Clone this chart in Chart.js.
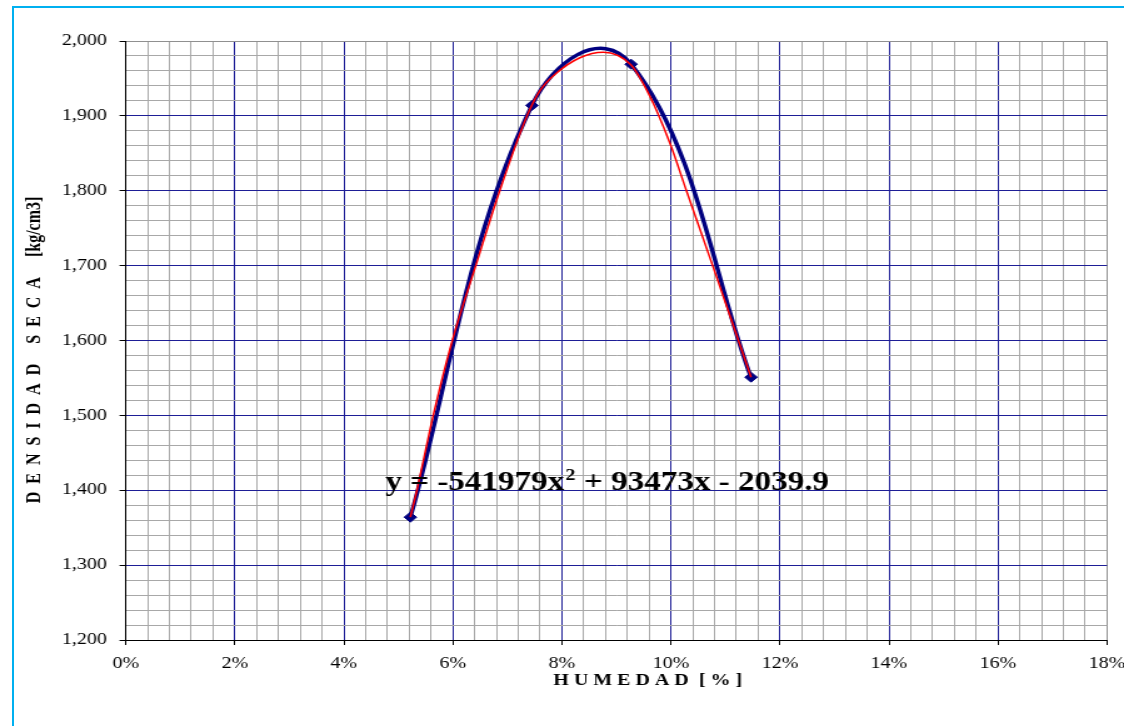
<!DOCTYPE html>
<html>
<head>
<meta charset="utf-8">
<script src="https://cdn.jsdelivr.net/npm/chart.js@4.4.1/dist/chart.umd.min.js"></script>
<style>
  html, body { margin: 0; padding: 0; background: #fff; overflow: hidden; width: 1124px; height: 726px; }
  #marco { position: absolute; left: 12px; top: 6px; width: 1200px; height: 800px; border: 2px solid #00b0f0; }
  #lienzo { position: absolute; left: 0; top: 0; width: 899px; height: 726px; transform-origin: 0 0; }
</style>
</head>
<body>
<div id="marco"></div>
<div id="lienzo"><canvas id="grafico" width="899" height="726"></canvas></div>
<script>
// puntos del ensayo (humedad en %, densidad seca)
const humedad  = [5.22, 7.45, 9.27, 11.47];
const densidad = [1364, 1914, 1969, 1551];

// linea de tendencia
const tendHumedad  = [5.22, 5.34, 5.64, 5.99, 6.42, 6.86, 7.36, 7.60, 7.88, 8.34, 8.76, 9.27, 9.50, 9.75, 10.00, 10.28, 10.78, 11.21, 11.47];
const tendDensidad = [1364, 1400, 1500, 1600, 1700, 1800, 1900, 1934, 1956, 1978, 1985, 1968, 1942, 1905, 1860, 1801, 1697, 1606, 1551];

const ecuacion = ['y = -541979x', '2', ' + 93473x - 2039.9'];
const tituloX = 'H U M E D A D  [ % ]';
const tituloY = 'D  E  N  S  I  D  A  D     S  E  C  A     [kg/cm3]';

const ESTIRA = 1.2503;   // el original esta estirado a lo ancho
const AZUL = '#000080';
const REJILLA = '#1e1e96';
const GRIS = '#a8a8a8';
const SERIF = '"Liberation Serif", "Times New Roman", serif';

document.getElementById('lienzo').style.transform = 'scaleX(' + ESTIRA + ')';

const esMayorX = v => Math.round(v * 10) % 20 === 0;
const esMayorY = v => Math.round(v) % 100 === 0;

// curva suavizada al estilo de Excel
const suavizado = {
    id: 'suavizado',
    beforeDatasetDraw(chart, args) {
        if (!chart.data.datasets[args.index].suavizar) return;
        const k = 0.3;
        const p = args.meta.data;
        const n = p.length;
        const dist = (a, b) => Math.hypot((b.x - a.x) * ESTIRA, b.y - a.y);
        for (let i = 0; i < n - 1; i++) {
            const a = p[Math.max(i - 1, 0)], b = p[i], c = p[i + 1], d = p[Math.min(i + 2, n - 1)];
            const tope = dist(b, c) * 0.45;
            const dac = dist(a, c), dbd = dist(b, d);
            const f1 = dac * k > tope ? tope / dac : k;
            const f2 = dbd * k > tope ? tope / dbd : k;
            b.cp2x = b.x + (c.x - a.x) * f1;
            b.cp2y = b.y + (c.y - a.y) * f1;
            c.cp1x = c.x - (d.x - b.x) * f2;
            c.cp1y = c.y - (d.y - b.y) * f2;
        }
        args.meta.dataset._pointsUpdated = true;
    }
};

const textos = {
    id: 'textos',
    afterDatasetsDraw(chart) {
        const ctx = chart.ctx;
        const sx = chart.scales.x, sy = chart.scales.y;
        ctx.save();
        ctx.fillStyle = '#000';

        // ecuacion de la tendencia
        let x = sx.getPixelForValue(4.76);
        const y = sy.getPixelForValue(1400);
        ctx.textAlign = 'left';
        ctx.textBaseline = 'alphabetic';
        ctx.font = 'bold 26.5px ' + SERIF;
        ctx.fillText(ecuacion[0], x, y);
        x += ctx.measureText(ecuacion[0]).width + 1;
        ctx.font = 'bold 16px ' + SERIF;
        ctx.fillText(ecuacion[1], x, y - 10);
        x += ctx.measureText(ecuacion[1]).width;
        ctx.font = 'bold 26.5px ' + SERIF;
        ctx.fillText(ecuacion[2], x, y);

        // titulos de ejes
        ctx.font = 'bold 16px ' + SERIF;
        ctx.textAlign = 'center';
        ctx.textBaseline = 'middle';
        ctx.fillText(tituloX, 518, 681);
        ctx.translate(28, 350);
        ctx.rotate(-Math.PI / 2);
        ctx.fillText(tituloY, 0, 0);
        ctx.restore();
    }
};

new Chart(document.getElementById('grafico').getContext('2d'), {
    type: 'line',
    data: {
        datasets: [
            {
                label: 'Tendencia',
                data: tendHumedad.map((h, i) => ({ x: h, y: tendDensidad[i] })),
                borderColor: '#ff0000',
                borderWidth: 1.5,
                pointRadius: 0,
                cubicInterpolationMode: 'monotone',
                order: 0
            },
            {
                label: 'Densidad seca',
                data: humedad.map((h, i) => ({ x: h, y: densidad[i] })),
                borderColor: AZUL,
                backgroundColor: AZUL,
                borderWidth: 3.5,
                pointStyle: 'rectRot',
                pointRadius: 5,
                pointBackgroundColor: AZUL,
                pointBorderColor: AZUL,
                pointBorderWidth: 1,
                tension: 0.4,
                suavizar: true,
                order: 1
            }
        ]
    },
    options: {
        responsive: false,
        devicePixelRatio: 1,
        animation: false,
        layout: { padding: { top: 41, right: 13.6, left: 0, bottom: 0 } },
        plugins: {
            legend: { display: false },
            tooltip: { enabled: false }
        },
        scales: {
            x: {
                type: 'linear',
                min: 0,
                max: 18,
                afterFit: s => { s.height = 86; s.paddingLeft = 0; s.paddingRight = 0; },
                border: { color: '#000', width: 1 },
                grid: {
                    tickLength: 5,
                    color: c => c.tick.value >= 18 ? '#909090' : (esMayorX(c.tick.value) ? REJILLA : GRIS),
                    tickColor: c => esMayorX(c.tick.value) ? '#000' : 'rgba(0,0,0,0)'
                },
                ticks: {
                    stepSize: 0.4,
                    autoSkip: false,
                    maxRotation: 0,
                    padding: 9,
                    color: '#000',
                    font: { family: SERIF, size: 16 },
                    callback: v => esMayorX(v) ? Math.round(v) + '%' : ''
                }
            },
            y: {
                min: 1200,
                max: 2000,
                afterFit: s => { s.width = 100.6; s.paddingTop = 0; s.paddingBottom = 0; },
                border: { color: '#000', width: 1 },
                grid: {
                    tickLength: 5,
                    color: c => c.tick.value >= 2000 ? '#909090' : (esMayorY(c.tick.value) ? REJILLA : GRIS),
                    tickColor: c => esMayorY(c.tick.value) ? '#000' : 'rgba(0,0,0,0)'
                },
                ticks: {
                    stepSize: 20,
                    autoSkip: false,
                    padding: 10,
                    color: '#000',
                    font: { family: SERIF, size: 16 },
                    callback: v => esMayorY(v) ? v.toLocaleString('en-US') : ''
                }
            }
        }
    },
    plugins: [suavizado, textos]
});
</script>
</body>
</html>
